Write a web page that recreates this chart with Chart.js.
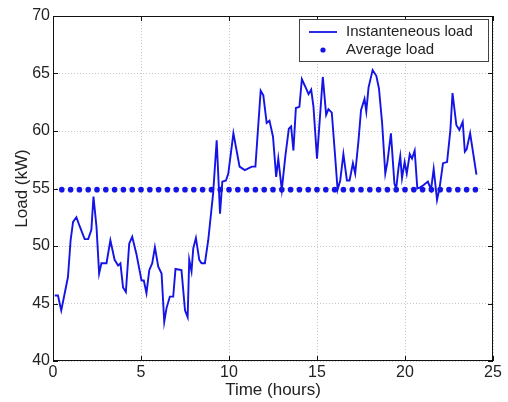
<!DOCTYPE html>
<html>
<head>
<meta charset="utf-8">
<script src="https://cdn.jsdelivr.net/npm/chart.js@4/dist/chart.umd.min.js"></script>
<style>
  html, body { margin: 0; padding: 0; background: #fff; }
  #wrap { width: 508px; height: 402px; }
</style>
</head>
<body>
<div id="wrap"><canvas id="chart"></canvas></div>
<script>
// values
const times = [0.1, 0.28, 0.47, 0.85, 1.0, 1.14, 1.33, 1.52, 1.8, 2.0, 2.18, 2.3, 2.47, 2.62, 2.75, 3.04,
    3.26, 3.5, 3.7, 3.83, 3.98, 4.14, 4.33, 4.5, 4.74, 5.03, 5.16, 5.31, 5.47, 5.64, 5.79, 5.98,
    6.17, 6.32, 6.45, 6.64, 6.83, 6.96, 7.3, 7.5, 7.65, 7.74, 7.87, 7.97, 8.12, 8.31, 8.44, 8.63,
    8.82, 9.1, 9.3, 9.49, 9.62, 9.83, 9.96, 10.25, 10.6, 10.9, 11.3, 11.5, 11.8, 11.95, 12.14, 12.3,
    12.5, 12.68, 12.8, 13.0, 13.2, 13.4, 13.53, 13.66, 13.8, 14.0, 14.14, 14.38, 14.52, 14.67, 14.8, 15.0,
    15.2, 15.33, 15.52, 15.65, 15.84, 16.03, 16.17, 16.32, 16.5, 16.7, 16.85, 17.04, 17.17, 17.36, 17.5, 17.7,
    17.8, 17.93, 18.16, 18.37, 18.52, 18.7, 18.88, 19.0, 19.2, 19.4, 19.5, 19.64, 19.73, 19.83, 19.98, 20.1,
    20.27, 20.4, 20.55, 20.7, 20.87, 21.06, 21.3, 21.48, 21.63, 21.82, 21.97, 22.16, 22.39, 22.58, 22.7, 22.92,
    23.09, 23.28, 23.4, 23.5, 23.7, 24.06];
const loads = [45.7, 45.7, 44.4, 47.3, 50.5, 52.1, 52.5, 51.7, 50.6, 50.6, 51.4, 54.3, 51.7, 47.6, 48.5, 48.5,
    50.5, 48.8, 48.3, 48.5, 46.4, 46.0, 50.2, 50.8, 49.3, 47.0, 47.0, 45.9, 47.9, 48.5, 49.9, 48.2,
    47.6, 43.4, 44.6, 45.6, 45.6, 48.0, 47.9, 44.4, 43.8, 48.8, 47.8, 49.8, 50.7, 48.8, 48.5, 48.5,
    50.5, 54.6, 59.2, 52.8, 55.6, 55.7, 56.3, 59.8, 56.9, 56.6, 56.9, 56.9, 63.5, 63.1, 60.7, 60.9,
    59.5, 56.0, 57.6, 54.9, 57.8, 60.2, 60.4, 58.3, 62.0, 62.1, 64.5, 63.7, 63.2, 63.6, 62.1, 57.6,
    61.9, 64.7, 61.4, 61.9, 61.6, 57.8, 54.9, 55.7, 58.0, 55.7, 55.7, 57.2, 56.3, 59.2, 61.8, 62.8,
    61.7, 63.8, 65.3, 64.8, 63.7, 60.7, 56.3, 57.3, 59.8, 55.4, 55.0, 56.9, 57.8, 55.9, 57.3, 56.3,
    58.0, 57.6, 58.3, 55.0, 55.1, 55.3, 55.6, 54.9, 56.7, 54.0, 55.1, 57.2, 57.3, 60.1, 63.3, 60.5,
    60.1, 60.8, 58.2, 58.4, 59.8, 56.2];
const avgTimes = [0.5, 1, 1.5, 2, 2.5, 3, 3.5, 4, 4.5, 5, 5.5, 6, 6.5, 7, 7.5, 8, 8.5, 9, 9.5, 10,
    10.5, 11, 11.5, 12, 12.5, 13, 13.5, 14, 14.5, 15, 15.5, 16, 16.5, 17, 17.5, 18, 18.5, 19, 19.5, 20,
    20.5, 21, 21.5, 22, 22.5, 23, 23.5, 24];
const avgLoad = 54.9;
const xTicks = [0, 5, 10, 15, 20, 25];
const yTicks = [40, 45, 50, 55, 60, 65, 70];
const seriesNames = ['Instanteneous load', 'Average load'];

const blue = '#1414e6';
const fontFamily = '"Liberation Sans", Arial, sans-serif';
Chart.defaults.font.family = fontFamily;
Chart.defaults.font.size = 16;
Chart.defaults.color = '#222';

// matlab style box, inward ticks and legend inside the axes
const boxPlugin = {
    id: 'box',
    afterDraw(chart){
        const ctx = chart.ctx;
        const a = chart.chartArea;
        const xs = chart.scales.x, ys = chart.scales.y;
        ctx.save();
        ctx.strokeStyle = '#111';
        ctx.lineWidth = 1;
        ctx.strokeRect(a.left + 0.5, a.top + 0.5, a.right - a.left - 1, a.bottom - a.top - 1);
        ctx.beginPath();
        xTicks.forEach(v => {
            const px = Math.round(xs.getPixelForValue(v)) + 0.5;
            ctx.moveTo(px, a.bottom); ctx.lineTo(px, a.bottom - 5);
            ctx.moveTo(px, a.top); ctx.lineTo(px, a.top + 5);
        });
        yTicks.forEach(v => {
            const py = Math.round(ys.getPixelForValue(v)) + 0.5;
            ctx.moveTo(a.left, py); ctx.lineTo(a.left + 5, py);
            ctx.moveTo(a.right, py); ctx.lineTo(a.right - 5, py);
        });
        ctx.stroke();

        // legend
        const w = 189, h = 42;
        const lx = a.right - 5 - w, ly = a.top + 3;
        ctx.fillStyle = '#fff';
        ctx.fillRect(lx, ly, w, h);
        ctx.strokeStyle = '#444';
        ctx.strokeRect(lx + 0.5, ly + 0.5, w, h);
        ctx.strokeStyle = blue;
        ctx.lineWidth = 1.8;
        ctx.beginPath();
        ctx.moveTo(lx + 10, ly + 13); ctx.lineTo(lx + 38, ly + 13);
        ctx.stroke();
        ctx.fillStyle = blue;
        ctx.beginPath();
        ctx.arc(lx + 24, ly + 31, 2.6, 0, Math.PI * 2);
        ctx.fill();
        ctx.fillStyle = '#222';
        ctx.font = '15px ' + fontFamily;
        ctx.textBaseline = 'middle';
        ctx.fillText(seriesNames[0], lx + 47, ly + 13);
        ctx.fillText(seriesNames[1], lx + 47, ly + 31);
        ctx.restore();
    }
};

new Chart(
    document.getElementById('chart'),
    {
        type: 'line',
        data: {
            datasets: [
                {
                    label: seriesNames[0],
                    data: times.map((t, i) => ({x: t, y: loads[i]})),
                    borderColor: blue,
                    borderWidth: 1.9,
                    pointRadius: 0,
                    tension: 0,
                    fill: false
                },
                {
                    label: seriesNames[1],
                    data: avgTimes.map(t => ({x: t, y: avgLoad})),
                    showLine: false,
                    pointRadius: 2.8,
                    pointStyle: 'circle',
                    backgroundColor: blue,
                    borderWidth: 0
                }
            ]
        },
        options: {
            responsive: true,
            maintainAspectRatio: false,
            animation: false,
            layout: {padding: {left: 12, right: 15, top: 16, bottom: 0}},
            plugins: {
                legend: {display: false},
                tooltip: {enabled: false}
            },
            scales: {
                x: {
                    type: 'linear',
                    min: 0, max: 25,
                    afterBuildTicks: s => { s.ticks = xTicks.map(v => ({value: v})); },
                    afterFit: s => { s.height = 41; },
                    grid: {color: '#c8c8c8', drawTicks: false},
                    border: {display: false, dash: [1, 2]},
                    ticks: {padding: 2, color: '#222'},
                    title: {display: true, text: 'Time (hours)', font: {size: 17}, padding: {top: 0, bottom: 1}, color: '#222'}
                },
                y: {
                    min: 40, max: 70,
                    afterBuildTicks: s => { s.ticks = yTicks.map(v => ({value: v})); },
                    afterFit: s => { s.width = 41; },
                    grid: {color: '#c8c8c8', drawTicks: false},
                    border: {display: false, dash: [1, 2]},
                    ticks: {padding: 3, color: '#222'},
                    title: {display: true, text: 'Load (kW)', font: {size: 17}, padding: {top: 0, bottom: 0}, color: '#222'}
                }
            }
        },
        plugins: [boxPlugin]
    }
);
</script>
</body>
</html>
